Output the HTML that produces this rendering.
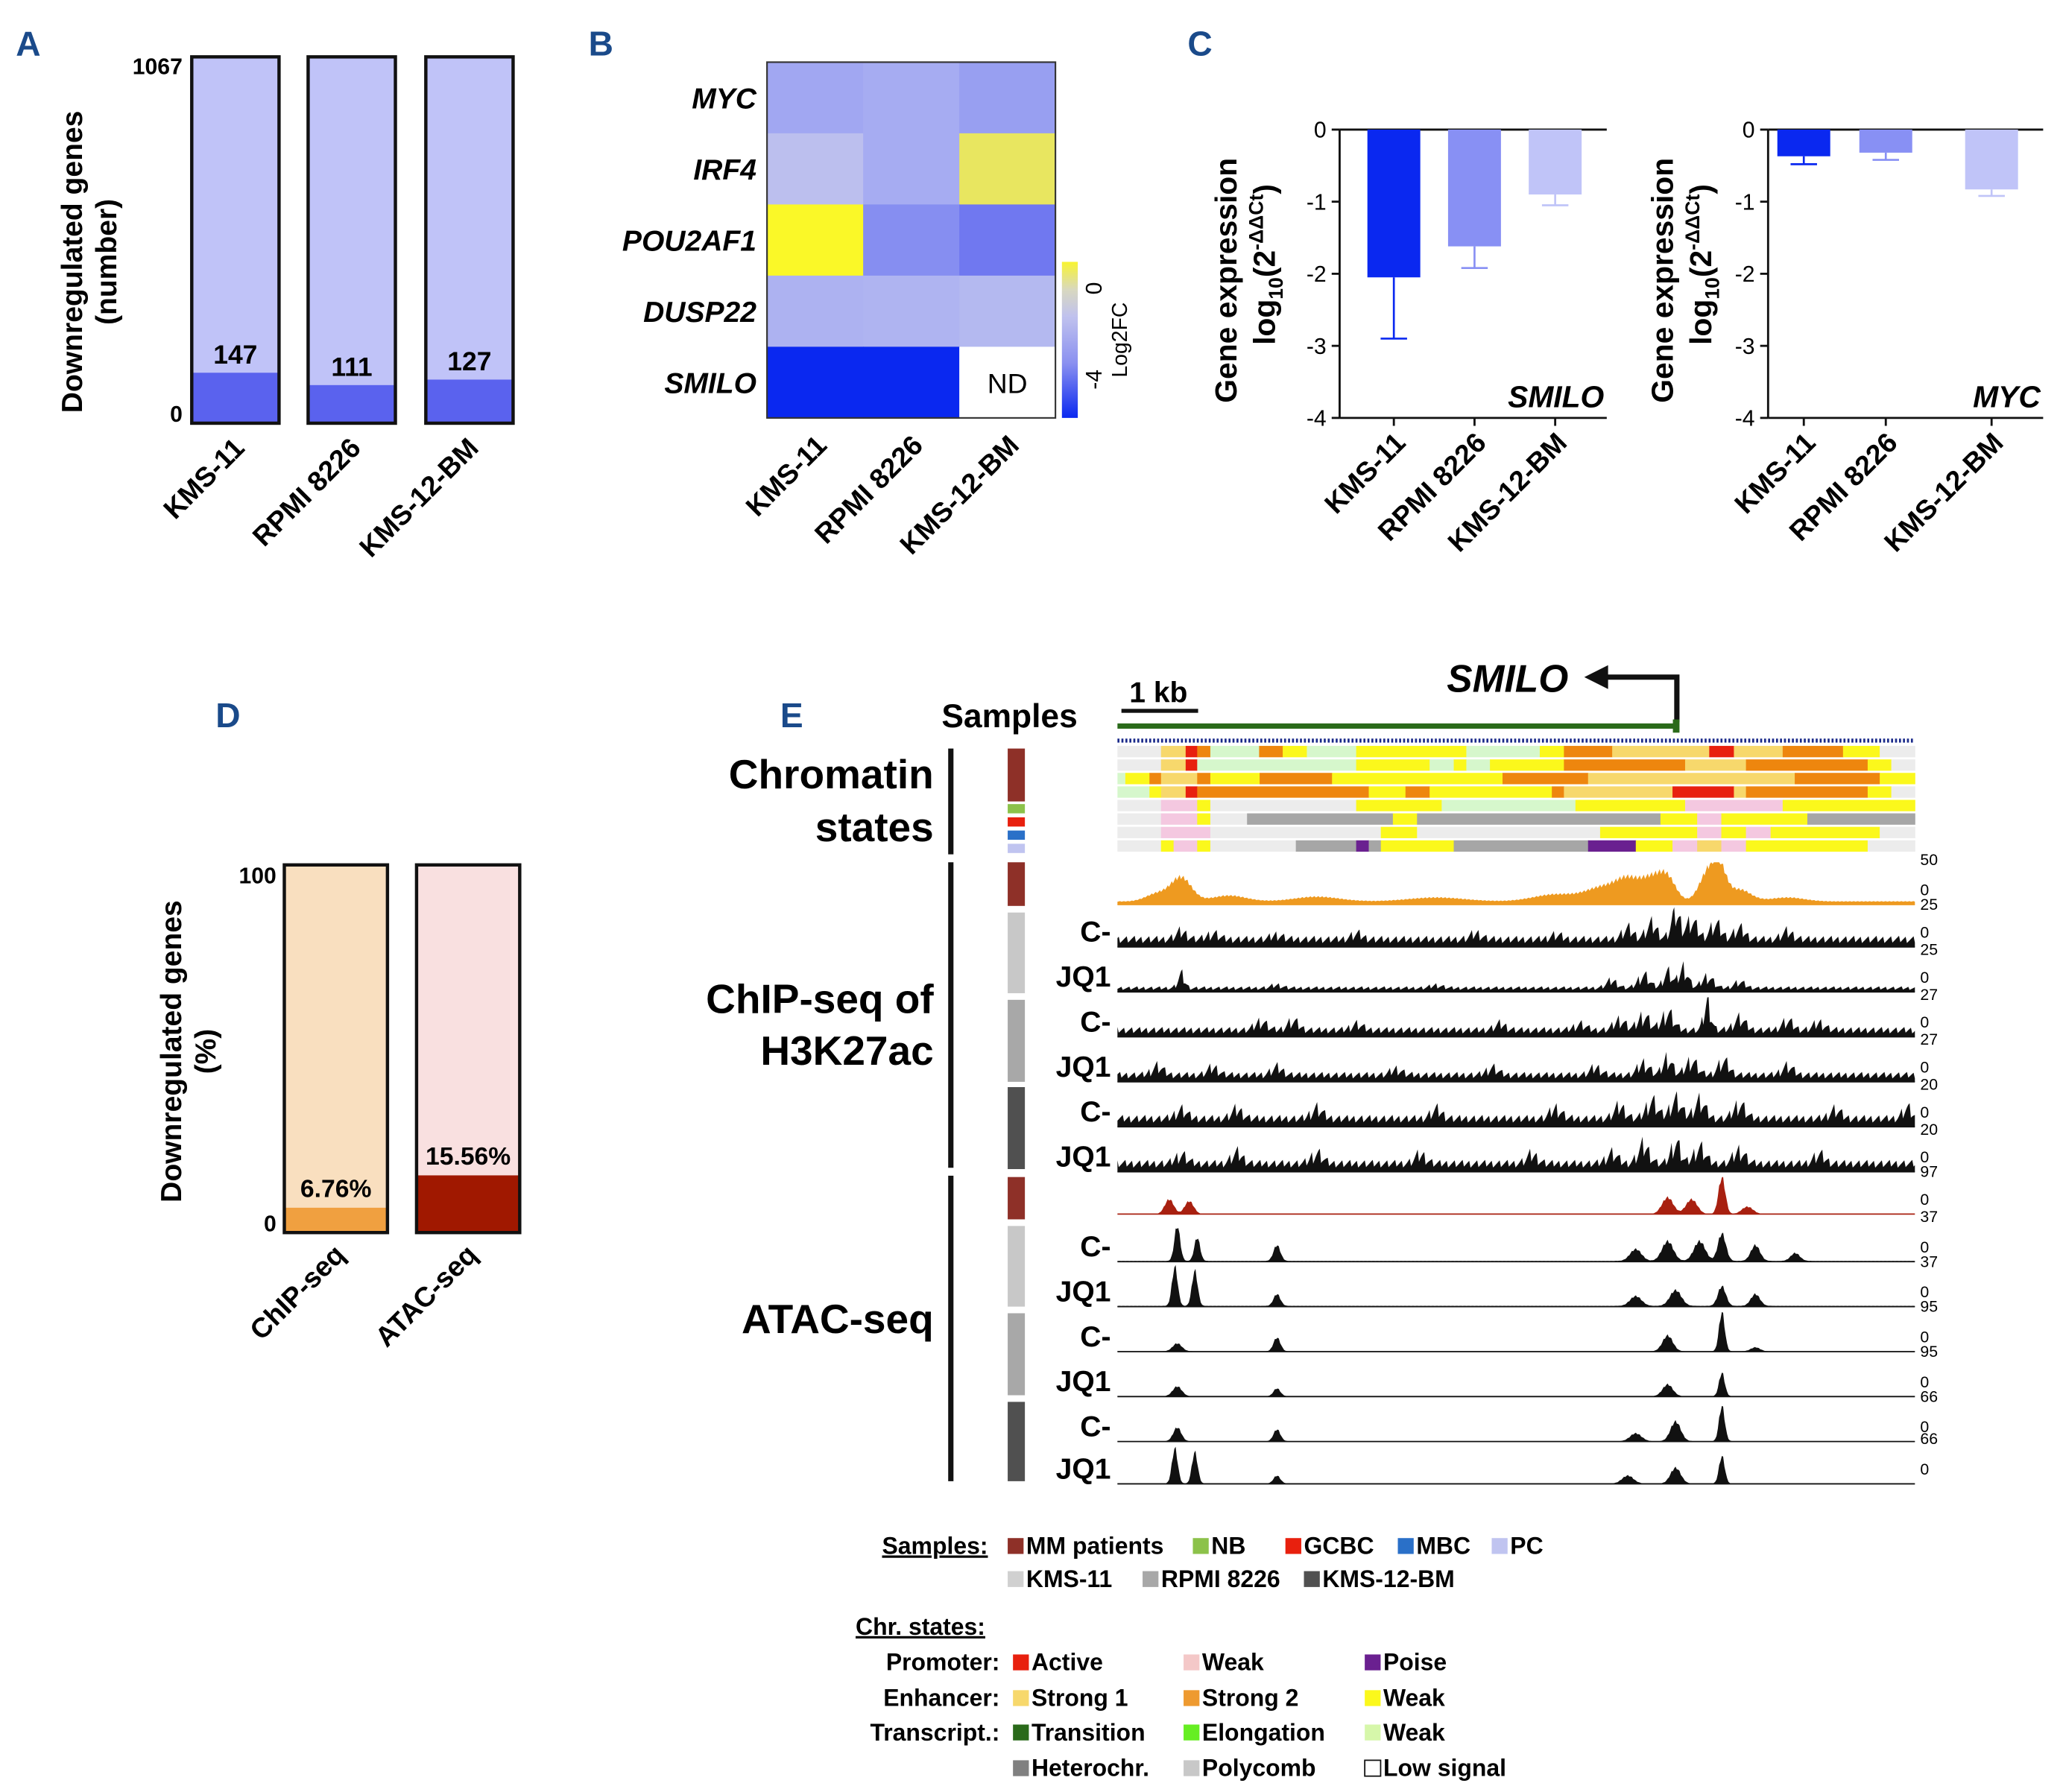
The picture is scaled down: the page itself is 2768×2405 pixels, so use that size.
<!DOCTYPE html>
<html><head><meta charset="utf-8"><style>
html,body{margin:0;padding:0;background:#fff}
svg{display:block}
text{font-family:"Liberation Sans",Arial,sans-serif}
</style></head><body>
<svg id="fig" xmlns="http://www.w3.org/2000/svg" width="2768" height="2405" viewBox="0 0 1560 1355" preserveAspectRatio="none">
<g font-weight="bold" fill="#1a4a8a" font-size="26">
<text x="12" y="42">A</text>
<text x="445" y="42">B</text>
<text x="898" y="42">C</text>
<text x="163" y="550">D</text>
<text x="590" y="550">E</text>
</g>
<g id="panelA"></g>
<g id="panelB"></g>
<g id="panelC"></g>
<g id="panelD"></g>
<g id="panelE"></g>
<g id="legend"></g>
</svg>
<script>
// ---------- data ----------
const cellLines = ["KMS-11","RPMI 8226","KMS-12-BM"];
const totalGenes = 1067;
const downGenes = [147,111,127];
const heatGenes = ["MYC","IRF4","POU2AF1","DUSP22","SMILO"];
const heatValues = [[-2.2,-2.1,-2.4],[-1.3,-2.1,1.3],[1.8,-2.8,-3.3],[-1.9,-1.8,-1.6],[-4.6,-4.6,null]];
const smiloMeans = [-2.05,-1.62,-0.9];
const smiloErr = [0.85,0.3,0.15];
const mycMeans = [-0.37,-0.32,-0.83];
const mycErr = [0.11,0.1,0.09];
const dCats = ["ChIP-seq","ATAC-seq"];
const dValues = [6.76,15.56];
const dLabels = ["6.76%","15.56%"];
const chromRows = [
[[0,83,"G"],[83,130,"S1"],[130,152,"A"],[152,177,"S2"],[177,270,"TW"],[270,315,"S2"],[315,361,"EW"],[361,455,"TW"],[455,665,"EW"],[665,805,"TW"],[805,851,"EW"],[851,943,"S2"],[943,1128,"S1"],[1128,1175,"A"],[1175,1268,"S1"],[1268,1383,"S2"],[1383,1453,"EW"],[1453,1520,"G"]],
[[0,83,"G"],[83,130,"S1"],[130,152,"A"],[152,455,"TW"],[455,595,"EW"],[595,641,"TW"],[641,665,"EW"],[665,710,"TW"],[710,851,"EW"],[851,1082,"S2"],[1082,1198,"S1"],[1198,1430,"S2"],[1430,1475,"EW"],[1475,1520,"G"]],
[[0,15,"TW"],[15,61,"EW"],[61,83,"S2"],[83,152,"S1"],[152,177,"S2"],[177,271,"EW"],[271,409,"S2"],[409,734,"EW"],[734,897,"S2"],[897,1291,"S1"],[1291,1453,"S2"],[1453,1520,"EW"]],
[[0,61,"TW"],[61,83,"EW"],[83,130,"S1"],[130,152,"A"],[152,479,"S2"],[479,549,"EW"],[549,595,"S2"],[595,828,"EW"],[828,851,"S2"],[851,1058,"S1"],[1058,1175,"A"],[1175,1198,"S1"],[1198,1430,"S2"],[1430,1475,"EW"],[1475,1520,"G"]],
[[0,83,"G"],[83,152,"PW"],[152,177,"EW"],[177,455,"G"],[455,618,"EW"],[618,873,"TW"],[873,1082,"EW"],[1082,1268,"PW"],[1268,1520,"EW"]],
[[0,83,"G"],[83,152,"PW"],[152,177,"EW"],[177,247,"G"],[247,525,"H"],[525,571,"EW"],[571,1035,"H"],[1035,1105,"EW"],[1105,1151,"PW"],[1151,1315,"EW"],[1315,1520,"H"]],
[[0,83,"G"],[83,177,"PW"],[177,502,"G"],[502,571,"EW"],[571,920,"G"],[920,1105,"EW"],[1105,1151,"PW"],[1151,1198,"EW"],[1198,1245,"PW"],[1245,1453,"EW"],[1453,1520,"G"]],
[[0,83,"G"],[83,107,"EW"],[107,152,"PW"],[152,177,"EW"],[177,340,"G"],[340,455,"H"],[455,479,"P"],[479,502,"H"],[502,641,"EW"],[641,897,"H"],[897,988,"P"],[988,1058,"EW"],[1058,1105,"PW"],[1105,1151,"S1"],[1151,1198,"PW"],[1198,1430,"EW"],[1430,1520,"G"]]
];
const trackNames = ["MM-H3K27ac","KMS-11 C-","KMS-11 JQ1","RPMI C-","RPMI JQ1","KMS-12 C-","KMS-12 JQ1","MM-ATAC","ATAC KMS-11 C-","ATAC KMS-11 JQ1","ATAC RPMI C-","ATAC RPMI JQ1","ATAC KMS-12 C-","ATAC KMS-12 JQ1"];
const trackMax = [50,25,25,27,27,20,20,97,37,37,95,95,66,66];
const trackBase = [0.08,0.28,0.14,0.25,0.25,0.3,0.3,0.0,0.02,0.02,0.01,0.01,0.01,0.01];
const trackPeaks = [
[[8,0.6,1.8],[5,0.2,2],[14,0.15,3],[25,0.12,4],[40,0.1,5],[55,0.18,4],[61,0.35,3],[64,0.45,2],[67,0.55,2],[69,0.5,1.5],[74,0.7,1.5],[75.5,0.75,1.2],[78,0.3,2],[84,0.1,3]],
[[8,0.25,1],[12,0.2,1],[20,0.15,1],[30,0.18,1],[45,0.2,1],[55,0.15,1],[64,0.35,1],[67,0.5,1],[70,0.9,0.8],[72,0.6,1],[75,0.5,1],[78,0.35,1],[84,0.25,1]],
[[8,0.45,0.6],[20,0.1,1],[40,0.1,1],[62,0.25,1],[66,0.45,1],[69,0.55,0.8],[71,0.7,0.8],[74,0.4,1],[78,0.2,1]],
[[18,0.3,1],[22,0.3,1],[30,0.2,1],[48,0.2,1],[58,0.2,1],[63,0.35,1],[66,0.5,1],[69,0.6,1],[74,1.0,0.6],[78,0.4,1],[84,0.3,1],[88,0.25,1]],
[[5,0.3,1],[12,0.25,1],[20,0.25,1],[35,0.2,1],[47,0.25,1],[60,0.25,1],[66,0.4,1],[69,0.6,0.8],[72,0.5,1],[76,0.45,1],[84,0.3,1]],
[[8,0.3,1],[15,0.3,1],[25,0.35,1],[40,0.3,1],[55,0.35,1],[63,0.4,1],[67,0.6,1],[70,0.65,1],[73,0.6,1],[78,0.5,1],[90,0.3,1],[99,0.35,0.8]],
[[8,0.3,1],[15,0.35,1],[25,0.35,1],[38,0.3,1],[52,0.3,1],[62,0.35,1],[66,0.6,1],[70,0.75,0.8],[73,0.55,1],[78,0.45,1],[88,0.3,1]],
[[6.5,0.4,0.8],[9,0.35,0.8],[69,0.45,1],[72,0.4,1],[75.8,1.0,0.6],[79,0.2,1]],
[[7.5,0.9,0.5],[10,0.6,0.5],[20,0.4,0.6],[65,0.3,1],[69,0.5,1],[73,0.5,1],[75.8,0.7,0.7],[80,0.4,0.8],[85,0.2,0.8]],
[[7.2,1.0,0.5],[9.7,0.9,0.5],[20,0.3,0.6],[65,0.25,1],[70,0.4,1],[75.8,0.5,0.7],[80,0.3,0.8]],
[[7.5,0.2,0.8],[20,0.35,0.6],[69,0.4,0.9],[75.8,1.0,0.5],[80,0.1,0.8]],
[[7.5,0.25,0.8],[20,0.2,0.6],[69,0.3,0.9],[75.8,0.6,0.5]],
[[7.5,0.35,0.7],[20,0.3,0.6],[65,0.2,1],[70,0.5,0.9],[75.8,0.9,0.5]],
[[7.2,0.9,0.5],[9.7,0.8,0.5],[20,0.2,0.6],[64,0.2,1],[70,0.4,0.9],[75.8,0.7,0.5]]
];
const stateColors = {G:"#ececec",S1:"#f7d86c",A:"#e8200e",S2:"#ee860e",TW:"#d6f7cc",EW:"#fbf81c",PW:"#f4c8e0",H:"#a6a6a6",P:"#6a2090"};

const NS="http://www.w3.org/2000/svg";
function mk(parent,tag,attrs,text){const e=document.createElementNS(NS,tag);for(const k in attrs)e.setAttribute(k,attrs[k]);if(text!==undefined)e.textContent=text;parent.appendChild(e);return e;}

// ---------- Panel A ----------
(function(){
const g=document.getElementById('panelA');
const top=43,bot=320;
const yA=v=>bot-(v/totalGenes)*(bot-top);
const xs=[145,233,322],w=66;
let t=mk(g,'text',{x:138,y:56,'text-anchor':'end','font-size':17,'font-weight':'bold'},"1067");

t=mk(g,'text',{x:138,y:319,'text-anchor':'end','font-size':17,'font-weight':'bold'},"0");

t=mk(g,'text',{transform:'translate(62,198) rotate(-90)','text-anchor':'middle','font-size':22,'font-weight':'bold'},"Downregulated genes");

t=mk(g,'text',{transform:'translate(88,198) rotate(-90)','text-anchor':'middle','font-size':22,'font-weight':'bold'},"(number)");

downGenes.forEach((v,i)=>{
 let r=mk(g,'rect',{x:xs[i],y:yA(totalGenes),width:w,height:bot-yA(totalGenes),fill:'#c0c3f8'});
 
 r=mk(g,'rect',{x:xs[i],y:yA(v),width:w,height:bot-yA(v),fill:'#5a62ee'});
 
 mk(g,'rect',{x:xs[i],y:yA(totalGenes),width:w,height:bot-yA(totalGenes),fill:'none',stroke:'#111','stroke-width':2.5});
 let l=mk(g,'text',{x:xs[i]+w/2,y:yA(v)-7,'text-anchor':'middle','font-size':20,'font-weight':'bold'},String(v));
 
 l=mk(g,'text',{transform:`translate(${xs[i]+w/2+8},${340}) rotate(-45)`,'text-anchor':'end','font-size':21,'font-weight':'bold'},cellLines[i]);
 
});
})();

// ---------- Panel B ----------
(function(){
const g=document.getElementById('panelB');
const x0=580,y0=47,cw=72.7,ch=53.8;
function col(v){
 const stops=[[-4.6,[10,40,240]],[-3.3,[112,120,240]],[-2,[170,176,242]],[-1,[196,198,236]],[0,[205,205,225]],[1.3,[232,230,96]],[1.8,[250,248,40]]];
 if(v<=stops[0][0])return 'rgb('+stops[0][1]+')';
 for(let i=1;i<stops.length;i++){if(v<=stops[i][0]){const a=stops[i-1],b=stops[i],f=(v-a[0])/(b[0]-a[0]);return 'rgb('+a[1].map((c,k)=>Math.round(c+(b[1][k]-c)*f)).join(',')+')';}}
 return 'rgb('+stops[stops.length-1][1]+')';
}
heatValues.forEach((row,r)=>{
 row.forEach((v,c)=>{
  const rc=mk(g,'rect',{x:x0+c*cw,y:y0+r*ch,width:cw+0.5,height:ch+0.5,fill:v===null?'#fff':col(v)});
  
  if(v===null){const t=mk(g,'text',{x:x0+c*cw+cw/2,y:y0+r*ch+ch/2+8,'text-anchor':'middle','font-size':21},"ND");
   }
 });
 const t=mk(g,'text',{x:572,y:y0+r*ch+ch/2+8,'text-anchor':'end','font-size':22,'font-weight':'bold','font-style':'italic'},heatGenes[r]);
 
});
mk(g,'rect',{x:x0,y:y0,width:cw*3,height:ch*5,fill:'none',stroke:'#333','stroke-width':1.2});
cellLines.forEach((n,i)=>{const t=mk(g,'text',{transform:`translate(${x0+i*cw+cw/2+10},${338}) rotate(-45)`,'text-anchor':'end','font-size':21,'font-weight':'bold'},n);
 });
const d=mk(g,'defs',{});const lg=mk(d,'linearGradient',{id:'cb',x1:0,y1:0,x2:0,y2:1});
[[0,'#f8f430'],[0.18,'#d8d8c0'],[0.35,'#c0c2ee'],[0.65,'#8a90f0'],[1,'#0a28f0']].forEach(s=>mk(lg,'stop',{offset:s[0],'stop-color':s[1]}));
const cb=mk(g,'rect',{x:803,y:198,width:12,height:118,fill:'url(#cb)'});

let t=mk(g,'text',{transform:'translate(833,218) rotate(-90)','text-anchor':'middle','font-size':17},"0");

t=mk(g,'text',{transform:'translate(833,287) rotate(-90)','text-anchor':'middle','font-size':17},"-4");

t=mk(g,'text',{transform:'translate(852,257) rotate(-90)','text-anchor':'middle','font-size':16},"Log2FC");

})();

// ---------- Panel C ----------
(function(){
const g=document.getElementById('panelC');
const colors=['#0a28f0','#8890f4','#c0c4f8'];
function chart(ax,x1,bars,means,errs,gene,titleX){
 const yT=98,yB=316;const y=v=>yT+(-v/4)*(yB-yT);
 mk(g,'line',{x1:ax,y1:yT,x2:x1,y2:yT,stroke:'#111','stroke-width':1.6});
 mk(g,'line',{x1:ax,y1:yB,x2:x1,y2:yB,stroke:'#111','stroke-width':1.6});
 mk(g,'line',{x1:ax,y1:yT,x2:ax,y2:yB,stroke:'#111','stroke-width':1.6});
 [0,-1,-2,-3,-4].forEach(v=>{mk(g,'line',{x1:ax-6,y1:y(v),x2:ax,y2:y(v),stroke:'#111','stroke-width':1.6});
  const t=mk(g,'text',{x:ax-10,y:y(v)+6,'text-anchor':'end','font-size':17},String(v));
  });
 means.forEach((m,i)=>{
  const bx=bars[i];
  const r=mk(g,'rect',{x:bx,y:yT,width:40,height:y(m)-yT,fill:colors[i]});
  
  mk(g,'line',{x1:bx+20,y1:y(m),x2:bx+20,y2:y(m-errs[i]),stroke:colors[i],'stroke-width':1.5});
  mk(g,'line',{x1:bx+10,y1:y(m-errs[i]),x2:bx+30,y2:y(m-errs[i]),stroke:colors[i],'stroke-width':1.5});
  mk(g,'line',{x1:bx+20,y1:yB,x2:bx+20,y2:yB+6,stroke:'#111','stroke-width':1.6});
  const t=mk(g,'text',{transform:`translate(${bx+30},${336}) rotate(-45)`,'text-anchor':'end','font-size':21,'font-weight':'bold'},cellLines[i]);
  
 });
 let t=mk(g,'text',{x:x1-2,y:308,'text-anchor':'end','font-size':23,'font-weight':'bold','font-style':'italic'},gene);
 
 t=mk(g,'text',{transform:`translate(${titleX},212) rotate(-90)`,'text-anchor':'middle','font-size':23,'font-weight':'bold'},"Gene expression");
 
 t=mk(g,'text',{transform:`translate(${titleX+29},200) rotate(-90)`,'text-anchor':'middle','font-size':23,'font-weight':'bold'});
 
 t.innerHTML='log<tspan font-size="15" dy="6">10</tspan><tspan dy="-6">(2</tspan><tspan font-size="15" dy="-9">-ΔΔCt</tspan><tspan dy="9">)</tspan>';
}
chart(1013,1215,[1034,1095,1156],smiloMeans,smiloErr,"SMILO",935);
chart(1337,1545,[1344,1406,1486],mycMeans,mycErr,"MYC",1265);
})();

// ---------- Panel D ----------
(function(){
const g=document.getElementById('panelD');
const top=654,bot=932;const y=v=>bot-v/100*(bot-top);
const xs=[215,315],w=78;const light=['#f9dfbf','#f9e0e0'],dark=['#f0a040','#a01800'];
dValues.forEach((v,i)=>{
 let r=mk(g,'rect',{x:xs[i],y:top,width:w,height:bot-top,fill:light[i]});
 
 r=mk(g,'rect',{x:xs[i],y:y(v),width:w,height:bot-y(v),fill:dark[i]});
 
 mk(g,'rect',{x:xs[i],y:top,width:w,height:bot-top,fill:'none',stroke:'#111','stroke-width':2.5});
 let t=mk(g,'text',{x:xs[i]+w/2,y:y(v)-8,'text-anchor':'middle','font-size':19,'font-weight':'bold'},dLabels[i]);
 
 t=mk(g,'text',{transform:`translate(${xs[i]+w/2+8},${950}) rotate(-45)`,'text-anchor':'end','font-size':21,'font-weight':'bold'},dCats[i]);
 
});
let t=mk(g,'text',{x:209,y:668,'text-anchor':'end','font-size':17,'font-weight':'bold'},"100");

t=mk(g,'text',{x:209,y:931,'text-anchor':'end','font-size':17,'font-weight':'bold'},"0");

t=mk(g,'text',{transform:'translate(137,795) rotate(-90)','text-anchor':'middle','font-size':22,'font-weight':'bold'},"Downregulated genes");

t=mk(g,'text',{transform:'translate(163,795) rotate(-90)','text-anchor':'middle','font-size':22,'font-weight':'bold'},"(%)");

})();

// ---------- Panel E ----------
(function(){
const g=document.getElementById('panelE');
const X0=845,X1=1448;
const xc=p=>X0+p/1520*(X1-X0);
let t;
t=mk(g,'text',{x:712,y:550,'font-size':25,'font-weight':'bold'},"Samples");
t=mk(g,'text',{x:706,y:596,'text-anchor':'end','font-size':31,'font-weight':'bold'},"Chromatin");
t=mk(g,'text',{x:706,y:636,'text-anchor':'end','font-size':31,'font-weight':'bold'},"states");
t=mk(g,'text',{x:706,y:766,'text-anchor':'end','font-size':31,'font-weight':'bold'},"ChIP-seq of");
t=mk(g,'text',{x:706,y:805,'text-anchor':'end','font-size':31,'font-weight':'bold'},"H3K27ac");
t=mk(g,'text',{x:706,y:1008,'text-anchor':'end','font-size':31,'font-weight':'bold'},"ATAC-seq");
[[566,646],[652,883],[889,1120]].forEach(b=>mk(g,'rect',{x:717,y:b[0],width:4,height:b[1]-b[0],fill:'#111'}));
mk(g,'rect',{x:848,y:536,width:58,height:3,fill:'#111'});
t=mk(g,'text',{x:876,y:531,'text-anchor':'middle','font-size':22,'font-weight':'bold'},"1 kb");
t=mk(g,'text',{x:1140,y:523,'text-anchor':'middle','font-size':29,'font-weight':'bold','font-style':'italic'},"SMILO");
mk(g,'polyline',{points:'1268,546 1268,512 1214,512',fill:'none',stroke:'#111','stroke-width':4});
mk(g,'polygon',{points:'1198,512 1216,503 1216,521',fill:'#111'});
const gm=mk(g,'rect',{x:845,y:547,width:423,height:4,fill:'#2a6a1a'});
mk(g,'rect',{x:1265,y:544,width:5,height:10,fill:'#2a6a1a'});
mk(g,'line',{x1:845,y1:560,x2:1448,y2:560,stroke:'#1a2a8a','stroke-width':3,'stroke-dasharray':'1.5 1.5'});
chromRows.forEach((row,r)=>{
 const y=564+r*10.2;
 row.forEach(s=>{const e=mk(g,'rect',{x:xc(s[0]),y:y,width:xc(s[1])-xc(s[0])+0.3,height:8.6,fill:stateColors[s[2]]});
  });
});
[[566,606,'#8e3028'],[608,615,'#8cc24a'],[618,625,'#e8200e'],[628,635,'#2a70c8'],[638,645,'#c0c4f0'],
 [652,685,'#8e3028'],[690,751,'#c8c8c8'],[756,818,'#a8a8a8'],[822,884,'#505050'],
 [890,922,'#8e3028'],[927,988,'#c8c8c8'],[993,1055,'#a8a8a8'],[1060,1120,'#505050']].forEach(b=>{
 const e=mk(g,'rect',{x:762,y:b[0],width:13,height:b[1]-b[0],fill:b[2]});});
const baselines=[684,716,750,784,818,852,886,918,954,988,1022,1056,1090,1122];
const heights=[32,30,30,30,30,30,30,30,32,32,32,32,32,32];
trackPeaks.forEach((peaks,ti)=>{
 const base=baselines[ti],h=heights[ti];
 const isOrange=ti===0,isRed=ti===7,isChip=ti>0&&ti<7;
 const fill=isOrange?'#ee9a20':isRed?'#a82010':'#111';
 let d='M'+X0+','+base;
 for(let px=0;px<=X1-X0;px+=1){
  const p=px/(X1-X0)*100;
  // texture modulation (rendering style only)
  const tex=isChip?(0.35+0.65*(((px*37+ti*11)%17)/16)):(0.85+0.15*((px*7)%3)/2);
  let v=trackBase[ti]*tex;
  peaks.forEach(pk=>{const z=(p-pk[0])/pk[2];v+=pk[1]*Math.exp(-z*z)*tex;});
  v=Math.min(v,1);
  d+=' L'+(X0+px)+','+(base-v*h).toFixed(1);
 }
 d+=' L'+X1+','+base+' Z';
 const e=mk(g,'path',{d:d,fill:fill});
 
 
 mk(g,'line',{x1:X0,y1:base,x2:X1,y2:base,stroke:isRed?'#a82010':isOrange?'#ee9a20':'#111','stroke-width':1});
 let s=mk(g,'text',{x:1452,y:base-h+2,'font-size':12},String(trackMax[ti]));
 s=mk(g,'text',{x:1452,y:base-7,'font-size':12},"0");
 if(!isOrange&&!isRed){
  const lbl=(ti%2===1&&ti<7)||(ti>7&&ti%2===0)?"C-":"JQ1";
  s=mk(g,'text',{x:840,y:base-4,'text-anchor':'end','font-size':22,'font-weight':'bold'},lbl);
  
 }
});
})();

// ---------- Legend ----------
(function(){
const g=document.getElementById('legend');
function T(x,y,s,name,anchor,extra){const t=mk(g,'text',Object.assign({x:x,y:y,'font-size':18,'font-weight':'bold','text-anchor':anchor||'start'},extra||{}),s);return t;}
function E(x,y,c,s,stroke){const r=mk(g,'rect',{x:x,y:y-12,width:12,height:12,fill:c});if(stroke){r.setAttribute('stroke','#111');r.setAttribute('stroke-width',1);}
 T(x+14,y,s,'legend-entry');}
T(667,1175,"Samples:",'legend-samples-heading','start',{'text-decoration':'underline'});
E(762,1175,'#8e3028',"MM patients");E(902,1175,'#8cc24a',"NB");E(972,1175,'#e8200e',"GCBC");E(1057,1175,'#2a70c8',"MBC");E(1128,1175,'#c0c4f0',"PC");
E(762,1200,'#d0d0d0',"KMS-11");E(864,1200,'#a8a8a8',"RPMI 8226");E(986,1200,'#505050',"KMS-12-BM");
T(647,1236,"Chr. states:",'legend-chr-states-heading','start',{'text-decoration':'underline'});
T(756,1263,"Promoter:",'legend-promoter','end');T(756,1290,"Enhancer:",'legend-enhancer','end');T(756,1316,"Transcript.:",'legend-transcript','end');
E(766,1263,'#e8200e',"Active");E(895,1263,'#f4c8c8',"Weak");E(1032,1263,'#6a2090',"Poise");
E(766,1290,'#f7d86c',"Strong 1");E(895,1290,'#ee9a30',"Strong 2");E(1032,1290,'#fbf81c',"Weak");
E(766,1316,'#2a6a1a',"Transition");E(895,1316,'#66ee22',"Elongation");E(1032,1316,'#d6f7aa',"Weak");
E(766,1343,'#808080',"Heterochr.");E(895,1343,'#c8c8c8',"Polycomb");E(1032,1343,'#fff',"Low signal",true);
})();
</script>
</body></html>
